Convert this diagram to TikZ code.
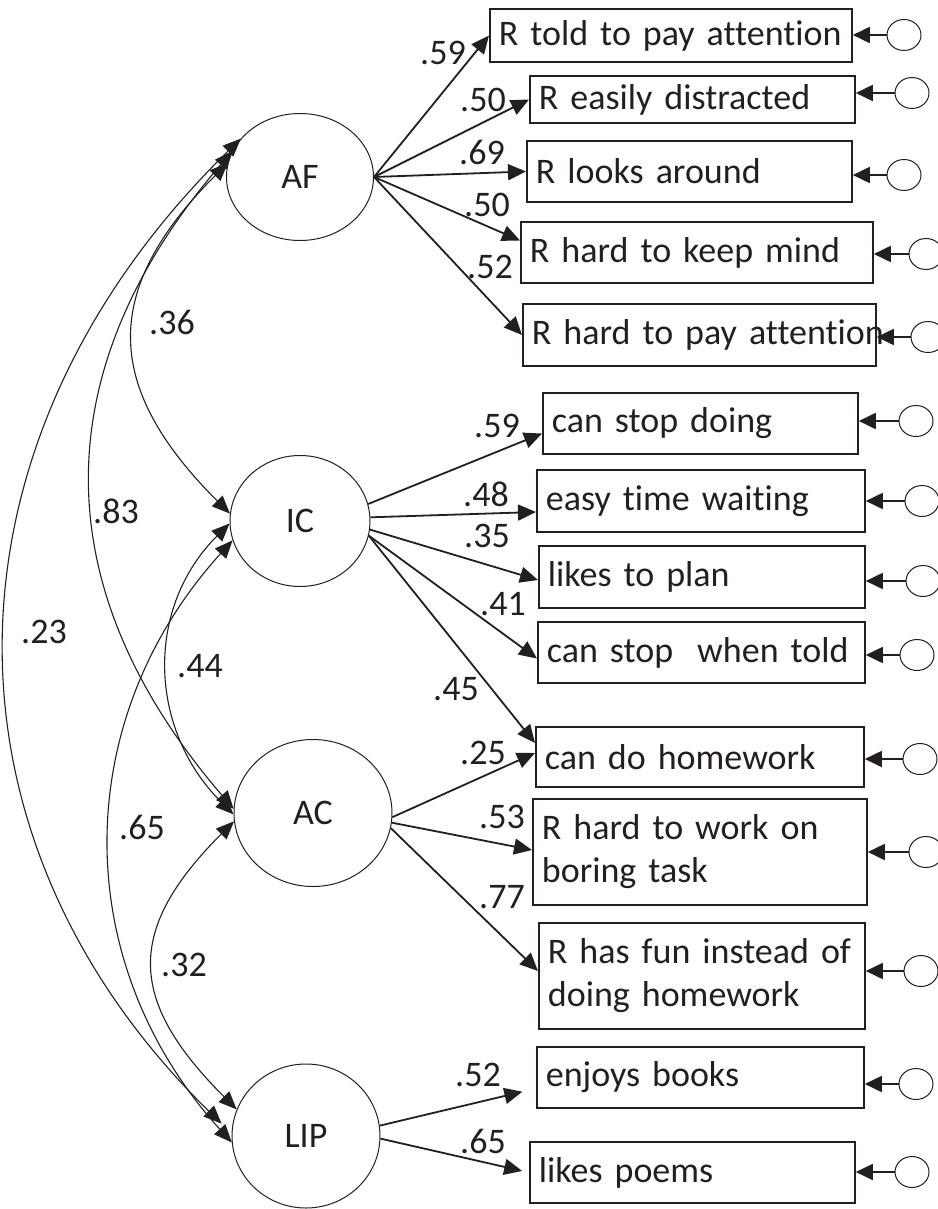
\documentclass[tikz,border=0pt]{standalone}
\usepackage{fontspec}
\setmainfont[Ligatures=NoCommon]{Carlito}
\usetikzlibrary{arrows.meta,shapes.geometric}
\definecolor{ink}{HTML}{231F20}
\tikzset{
  lat/.style={ellipse,draw=ink,line width=.5pt,inner sep=0pt},
  ind/.style={draw=ink,line width=.9pt,anchor=west,align=left,inner xsep=4.5pt,inner ysep=0pt,text width=#1},
  err/.style={ellipse,draw=ink,line width=.5pt,minimum width=17pt,minimum height=15.5pt,inner sep=0pt},
  load/.style={-{Triangle[length=9pt,width=8pt]},line width=.9pt},
  res/.style={-{Triangle[length=8.5pt,width=8pt]},line width=.9pt},
  cov/.style={{Triangle[length=9pt,width=7.5pt]}-{Triangle[length=9pt,width=7.5pt]},line width=.55pt},
  coef/.style={inner sep=0pt}
}
\begin{document}
\begin{tikzpicture}[x=.5pt,y=-.5pt,color=ink,font=\fontsize{18}{21.5}\selectfont]
\useasboundingbox (0,0) rectangle (937,1209);
% latent factors
\node[lat,minimum width=73.5pt,minimum height=63.5pt] (AF) at (300,177) {AF};
\node[lat,minimum width=70pt,minimum height=65.5pt] (IC) at (300,521) {IC};
\node[lat,minimum width=79pt,minimum height=73.5pt] (AC) at (313,813) {AC};
\node[lat,minimum width=74pt,minimum height=72pt] (LIP) at (306,1136) {LIP};
% indicators
\node[ind=172pt,minimum height=26.5pt] (b1) at (489,35.5) {R told to pay attention};
\node[ind=153.5pt,minimum height=23.5pt] (b2) at (529,99.5) {R easily distracted};
\node[ind=153.5pt,minimum height=30.5pt] (b3) at (526,171.5) {R looks around};
\node[ind=167pt,minimum height=30.5pt] (b4) at (520,252.5) {R hard to keep mind};
\node[ind=167.5pt,minimum height=31pt] (b5) at (522,335) {\mbox{R hard to pay attention}};
\node[ind=148.5pt,minimum height=30.5pt] (b6) at (542,423.5) {can stop doing};
\node[ind=155pt,minimum height=31pt] (b7) at (536,501) {easy time waiting};
\node[ind=154pt,minimum height=31pt] (b8) at (538,577) {likes to plan};
\node[ind=154.5pt,minimum height=30.5pt] (b9) at (537,652.5) {can stop\ \ when told};
\node[ind=155pt,minimum height=30pt] (b10) at (535,757) {can do homework};
\node[ind=158pt,minimum height=53pt] (b11) at (532,852) {R hard to work on\\boring task};
\node[ind=154pt,minimum height=53pt] (b12) at (538,976) {R has fun instead of\\doing homework};
\node[ind=154.5pt,minimum height=30.5pt] (b13) at (536,1077.5) {enjoys books};
\node[ind=153.5pt,minimum height=30.5pt] (b14) at (529,1172.5) {likes poems};
% residuals
\foreach \i/\x/\y in {1/904/35,2/912/93,3/904/175,4/926/254,5/928/337,6/916/421,7/922/501,
  8/923/581,9/917/655,10/920/759,11/926/852,12/921/971,13/916/1084,14/912/1172}
  \node[err] (e\i) at (\x,\y) {};
\foreach \i in {1,...,14}
  \draw[res] (e\i.west) -- (b\i.east |- e\i.west);
% loadings
\draw[load] (AF.east) -- (b1.west);
\draw[load] (AF.east) -- (b2.west);
\draw[load] (AF.east) -- (b3.west);
\draw[load] (AF.east) -- ([yshift=6pt]b4.west);
\draw[load] (AF.east) -- (b5.west);
\draw[load] (IC.14) -- ([yshift=-5pt]b6.west);
\draw[load] (IC.3) -- ([yshift=-5.5pt]b7.west);
\draw[load] (IC.-7) -- ([yshift=-1.5pt]b8.west);
\draw[load] (IC.-12) -- ([yshift=-3pt]b9.west);
\draw[load] (IC.-12) -- ([yshift=7pt]b10.west);
\draw[load] (AC.-3) -- ([yshift=2pt]b10.west);
\draw[load] (AC.-7) -- ([yshift=1pt]b11.west);
\draw[load] (AC.-11) -- ([yshift=2.5pt]b12.west);
\draw[load,shorten >=7pt] (LIP.8) -- ([yshift=-5.5pt]b13.west);
\draw[load,shorten >=3.5pt] (LIP.-2) -- (b14.west);
\node[coef] (kAF1) at (443,53) {.59};
\node[coef] (kAF2) at (483,100) {.50};
\node[coef] (kAF3) at (482,152) {.69};
\node[coef] (kAF4) at (487,205) {.50};
\node[coef] (kAF5) at (490,267) {.52};
\node[coef] (kIC1) at (497,426) {.59};
\node[coef] (kIC2) at (486,494) {.48};
\node[coef] (kIC3) at (487,536) {.35};
\node[coef] (kIC4) at (503,604) {.41};
\node[coef] (kIC5) at (456,689) {.45};
\node[coef] (kAC1) at (483,753) {.25};
\node[coef] (kAC2) at (502,817) {.53};
\node[coef] (kAC3) at (502,897) {.77};
\node[coef] (kLIP1) at (478,1075) {.52};
\node[coef] (kLIP2) at (483,1141) {.65};
% correlations
\draw[cov] (AF.169) .. controls +(-127,127) and +(-127,-127) .. (IC.174);
\draw[cov] (AF.159) .. controls +(-189,220) and +(-189,-220) .. (AC.177);
\draw[cov,shorten >=7pt] (AF.147) .. controls +(-306,300) and +(-306,-300) .. (LIP.178);
\draw[cov] (IC.182) .. controls +(-85,85) and +(-85,-85) .. (AC.181);
\draw[cov] (IC.196) .. controls +(-163,180) and +(-163,-180) .. (LIP.185);
\draw[cov] (AC.186) .. controls +(-109,109) and +(-109,-109) .. (LIP.159);
\node[coef] (rAFIC) at (172,322) {.36};
\node[coef] (rAFAC) at (116,511) {.83};
\node[coef] (rAFLIP) at (44,632) {.23};
\node[coef] (rICAC) at (200,666) {.44};
\node[coef] (rICLIP) at (142,827) {.65};
\node[coef] (rACLIP) at (184,965) {.32};
\end{tikzpicture}
\end{document}
